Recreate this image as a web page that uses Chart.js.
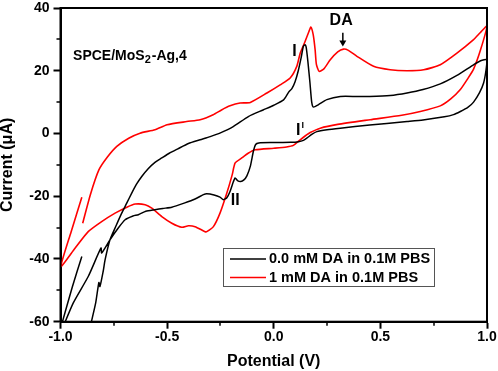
<!DOCTYPE html>
<html>
<head>
<meta charset="utf-8">
<script src="https://cdn.jsdelivr.net/npm/chart.js@4.4.1/dist/chart.umd.min.js"></script>
<style>
html, body { margin: 0; padding: 0; background: #fff; }
</style>
</head>
<body>
<canvas id="cv" width="498" height="371"></canvas>
<script>
// 凡例・色・目盛
var seriesNames = ["0.0 mM DA in 0.1M PBS", "1 mM DA in 0.1M PBS"];
var seriesColors = ["#000000", "#ff0000"];
var xTicks = [-1.0, -0.5, 0.0, 0.5, 1.0];
var yTicks = [-60, -40, -20, 0, 20, 40];

// 0.0 mM DA (黒) : 電位 V / 電流 uA  (null = 線の切れ目)
var potential0 = [-0.90, -0.945, -0.995, null,
  -0.99, -0.94, -0.87, -0.81, -0.807, -0.768, -0.73, -0.697, -0.66, -0.635, -0.60, -0.557, -0.52, -0.478, -0.42, -0.369, -0.33, -0.314,
  -0.28, -0.252, -0.236, -0.22, -0.205, -0.19, -0.181, -0.17, -0.155, -0.14, -0.126, -0.11, -0.095, -0.085, -0.07, 0.0, 0.08, 0.116,
  0.139, 0.155, 0.18, 0.202, 0.25, 0.312, 0.45, 0.53, 0.625, 0.70, 0.80, 0.843, 0.875, 0.91, 0.937, 0.965, 0.984, 0.995, 1.0,
  0.97, 0.937, 0.859, 0.781, 0.70, 0.625, 0.546, 0.45, 0.39, 0.312, 0.249, 0.21, 0.186, 0.178, 0.17, 0.16, 0.152, 0.147, 0.139,
  0.128, 0.115, 0.10, 0.085, 0.07, 0.046, 0.0, -0.05, -0.119, -0.19, -0.25, -0.298, -0.345, -0.40, -0.45, -0.49, -0.525, -0.557,
  -0.59, -0.619, -0.645, -0.666, -0.69, -0.713, -0.74, -0.768, -0.791, -0.80, -0.815, -0.82, -0.835, -0.862];
var current0 = [-39.2, -49, -61, null,
  -62, -54, -45.6, -36.5, -38.1, -33.9, -30.2, -27.5, -26.3, -25.9, -24.8, -24.3, -23.9, -23.5, -22.2, -20.9, -19.5, -19.2,
  -19.6, -20.3, -21.1, -20.5, -18.5, -15.5, -14.2, -15.0, -15.3, -14.8, -13.5, -10.5, -5.5, -3.5, -3.0, -2.9, -2.8, -2.6,
  -2.2, -1.5, -0.2, 0.6, 1.2, 1.7, 2.7, 3.2, 3.8, 4.3, 5.3, 6.0, 7.0, 8.3, 10.0, 13.0, 16.1, 20.0, 23.5,
  23.2, 21.9, 18.5, 15.8, 14.0, 12.9, 12.1, 11.8, 11.8, 11.8, 10.8, 9.2, 8.4, 10.0, 16.0, 23.0, 27.5, 28.3, 27.8,
  24.0, 20.0, 16.5, 14.3, 13.2, 10.7, 9.0, 7.5, 5.4, 2.2, 0.2, -1.0, -2.0, -3.2, -4.9, -6.3, -7.8, -9.2,
  -11.3, -13.7, -16.3, -19.0, -22.3, -25.4, -29.5, -33.9, -40.3, -44.0, -48.8, -47.5, -54.0, -62.0];

// 1 mM DA (赤)
var potential1 = [-0.90, -0.95, -0.998, -0.932, -0.87, -0.807, -0.744, -0.689, -0.65, -0.603, -0.572, -0.525, -0.478, -0.431, -0.40,
  -0.369, -0.322, -0.314, -0.283, -0.252, -0.22, -0.195, -0.181, -0.15, -0.12, -0.087, 0.0, 0.06, 0.092, 0.124, 0.147, 0.171,
  0.218, 0.30, 0.452, 0.60, 0.687, 0.781, 0.83, 0.875, 0.91, 0.937, 0.969, 1.0,
  0.969, 0.937, 0.859, 0.781, 0.703, 0.625, 0.546, 0.468, 0.39, 0.35, 0.327, 0.30, 0.265, 0.235, 0.213, 0.20, 0.194, 0.185,
  0.174, 0.165, 0.145, 0.124, 0.108, 0.077, 0.03, -0.032, -0.11, -0.158, -0.205, -0.245, -0.284, -0.345, -0.408, -0.50, -0.557,
  -0.627, -0.68, -0.736, -0.78, -0.82, -0.86, -0.896];
var current1 = [-20.3, -31.3, -42.4, -36.6, -31.3, -28.1, -25.4, -23.5, -22.5, -22.7, -23.8, -26.5, -28.6, -29.9, -29.4,
  -29.7, -31.3, -31.3, -29.7, -25.4, -19.0, -13.2, -9.4, -7.8, -6.3, -5.2, -4.7, -4.3, -3.8, -2.0, -0.8, 0.3,
  1.7, 2.9, 4.4, 5.8, 7.0, 8.8, 11.0, 14.0, 17.5, 20.5, 26.5, 34.3,
  32.2, 29.9, 25.6, 21.9, 20.3, 20.0, 20.3, 21.4, 24.6, 26.5, 26.9, 26.0, 23.5, 20.6, 19.8, 22.0, 26.7, 31.5,
  33.9, 32.5, 29.0, 25.6, 21.4, 17.7, 15.5, 12.9, 9.9, 9.7, 8.8, 7.5, 6.0, 4.4, 3.8, 2.8, 1.2,
  0.1, -1.5, -4.1, -7.5, -11.6, -19.5, -28.6];

function toPoints(xs, ys) {
    return xs.map(function (x, i) { return { x: x, y: ys[i] }; });
}

var FONT = "'Liberation Sans', Arial, sans-serif";

// 枠線・副目盛・注記・凡例
var decorPlugin = {
    id: 'decor',
    afterDraw: function (chart) {
        var ctx = chart.ctx, a = chart.chartArea;
        var xs = chart.scales.x, ys = chart.scales.y;
        ctx.save();
        ctx.strokeStyle = '#000';
        ctx.lineWidth = 2;
        ctx.strokeRect(a.left, a.top, a.right - a.left, a.bottom - a.top);

        // 副目盛
        ctx.lineWidth = 1.5;
        ctx.beginPath();
        for (var i = 0; i < xTicks.length - 1; i++) {
            var px = Math.round(xs.getPixelForValue((xTicks[i] + xTicks[i + 1]) / 2));
            ctx.moveTo(px, a.bottom); ctx.lineTo(px, a.bottom + 4);
        }
        for (i = 0; i < yTicks.length - 1; i++) {
            var py = Math.round(ys.getPixelForValue((yTicks[i] + yTicks[i + 1]) / 2));
            ctx.moveTo(a.left - 4, py); ctx.lineTo(a.left, py);
        }
        ctx.stroke();

        // 注記
        ctx.fillStyle = '#000';
        ctx.textBaseline = 'middle';
        ctx.textAlign = 'left';
        var sx = xs.getPixelForValue(-0.941), sy = ys.getPixelForValue(24.8);
        ctx.font = 'bold 14px ' + FONT;
        ctx.fillText('SPCE/MoS', sx, sy);
        sx += ctx.measureText('SPCE/MoS').width;
        ctx.font = 'bold 11px ' + FONT;
        ctx.fillText('2', sx, sy + 4);
        sx += ctx.measureText('2').width + 1;
        ctx.font = 'bold 14px ' + FONT;
        ctx.fillText('-Ag,4', sx, sy);

        ctx.textAlign = 'center';
        ctx.font = 'bold 16px ' + FONT;
        ctx.fillText('I', xs.getPixelForValue(0.097), ys.getPixelForValue(26.2));
        ctx.fillText('DA', xs.getPixelForValue(0.316), ys.getPixelForValue(36.1));
        ctx.fillText('II', xs.getPixelForValue(-0.181), ys.getPixelForValue(-21.4));
        var ix = xs.getPixelForValue(0.1145), iy = ys.getPixelForValue(1.0);
        ctx.fillText('I', ix, iy);
        ctx.font = 'bold 9px ' + FONT;
        ctx.fillText('I', ix + 4.5, iy - 5);

        // 矢印
        var ax = xs.getPixelForValue(0.324);
        var ay0 = ys.getPixelForValue(32.1), ay1 = ys.getPixelForValue(27.7);
        ctx.lineWidth = 1.5;
        ctx.beginPath();
        ctx.moveTo(ax, ay0); ctx.lineTo(ax, ay1 - 4);
        ctx.stroke();
        ctx.beginPath();
        ctx.moveTo(ax - 3.5, ay1 - 6); ctx.lineTo(ax + 3.5, ay1 - 6); ctx.lineTo(ax, ay1);
        ctx.closePath();
        ctx.fill();

        // 凡例
        ctx.strokeStyle = '#555';
        ctx.lineWidth = 1;
        ctx.strokeRect(223.5, 248.5, 211, 38);
        ctx.textAlign = 'left';
        ctx.font = 'bold 14.5px ' + FONT;
        var ly = [259, 277.5];
        for (i = 0; i < seriesNames.length; i++) {
            ctx.strokeStyle = seriesColors[i];
            ctx.lineWidth = 1.5;
            ctx.beginPath();
            ctx.moveTo(230, ly[i]); ctx.lineTo(266, ly[i]);
            ctx.stroke();
            ctx.fillStyle = '#000';
            ctx.fillText(seriesNames[i], 269, ly[i]);
        }
        ctx.restore();
    }
};

var ctx1 = document.getElementById('cv');
var cvChart = new Chart(ctx1, {
    type: 'scatter',
    data: {
        datasets: [{
            label: seriesNames[0],
            data: toPoints(potential0, current0),
            showLine: true,
            borderColor: seriesColors[0],
            borderWidth: 1.5,
            pointRadius: 0,
            tension: 0.2,
            spanGaps: false
        }, {
            label: seriesNames[1],
            data: toPoints(potential1, current1),
            showLine: true,
            borderColor: seriesColors[1],
            borderWidth: 1.6,
            pointRadius: 0,
            tension: 0.2,
            spanGaps: false
        }]
    },
    options: {
        responsive: false,
        animation: false,
        events: [],
        layout: { padding: { top: 8, right: 11, bottom: 0, left: 0 } },
        plugins: {
            legend: { display: false },
            tooltip: { enabled: false }
        },
        scales: {
            x: {
                type: 'linear',
                min: -1, max: 1,
                afterBuildTicks: function (s) { s.ticks = xTicks.map(function (v) { return { value: v }; }); },
                afterFit: function (s) { s.height = 49.3; },
                ticks: {
                    color: '#000',
                    padding: 0,
                    maxRotation: 0,
                    font: { family: FONT, size: 14, weight: 'bold' },
                    callback: function (v) { return v.toFixed(1); }
                },
                grid: { drawOnChartArea: false, tickLength: 7, tickWidth: 2, tickColor: '#000' },
                border: { display: true, color: '#000', width: 2 },
                title: {
                    display: true,
                    text: 'Potential (V)',
                    color: '#000',
                    padding: { top: 0, bottom: 1 },
                    font: { family: FONT, size: 16, weight: 'bold', lineHeight: 1 }
                }
            },
            y: {
                type: 'linear',
                min: -60, max: 40,
                afterBuildTicks: function (s) { s.ticks = yTicks.map(function (v) { return { value: v }; }); },
                afterFit: function (s) { s.width = 60.5; s.paddingTop = 0; s.paddingBottom = 0; },
                ticks: {
                    color: '#000',
                    padding: 4,
                    font: { family: FONT, size: 14, weight: 'bold' }
                },
                grid: { drawOnChartArea: false, tickLength: 7, tickWidth: 2, tickColor: '#000' },
                border: { display: true, color: '#000', width: 2 },
                title: {
                    display: true,
                    text: 'Current (\u03bcA)',
                    color: '#000',
                    padding: { top: 0, bottom: 0 },
                    font: { family: FONT, size: 16, weight: 'bold', lineHeight: 1 }
                }
            }
        }
    },
    plugins: [decorPlugin]
});
</script>
</body>
</html>
